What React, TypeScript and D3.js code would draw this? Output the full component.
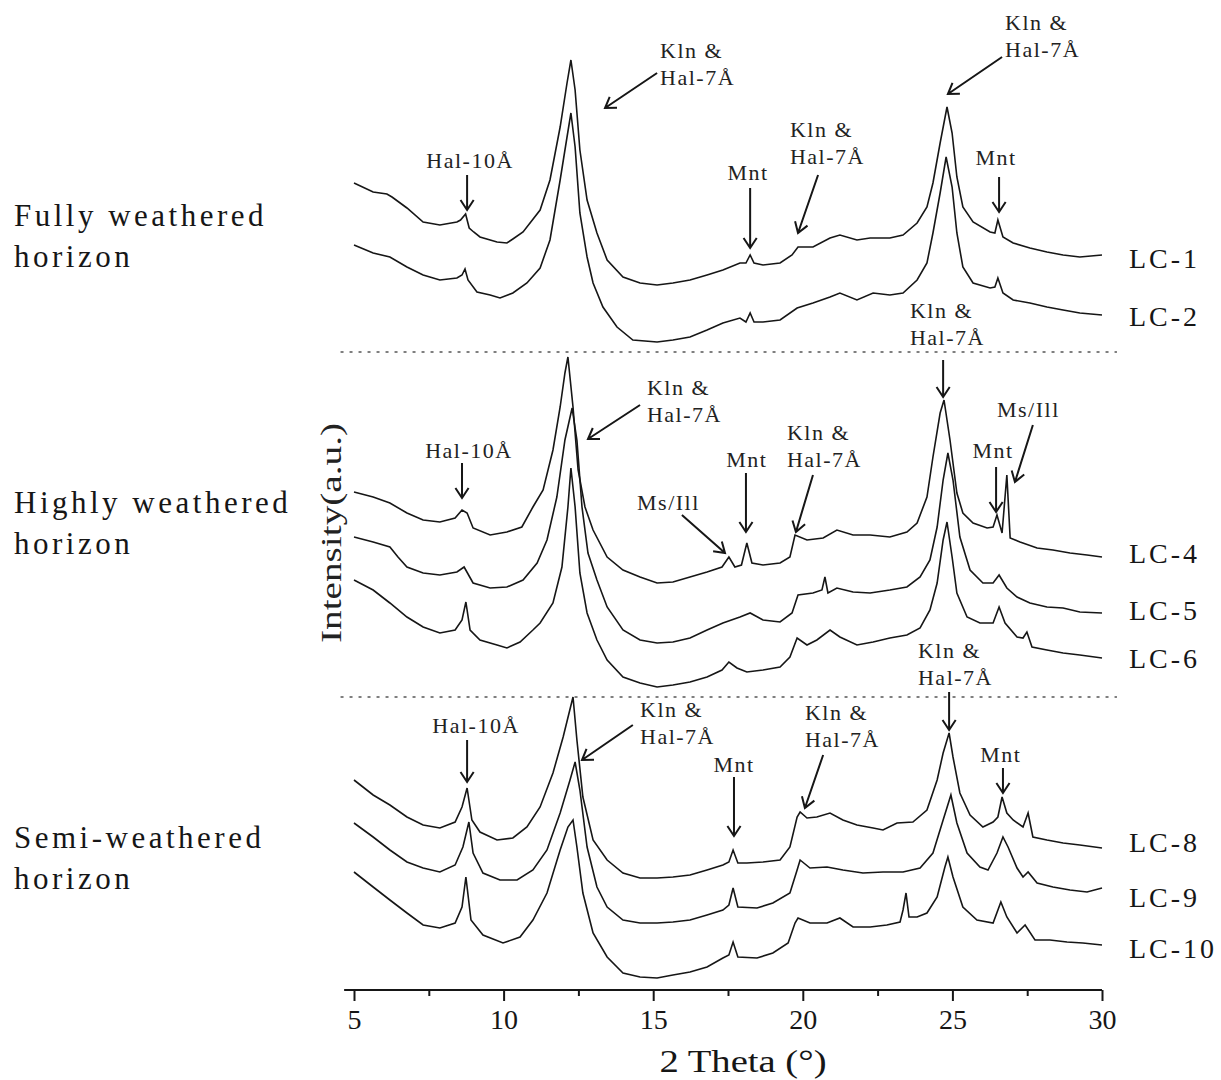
import React, { useEffect, useRef } from "react";
import * as d3 from "d3";

const WIDTH = 1221;
const HEIGHT = 1080;
const FONT = "'Liberation Serif', 'Times New Roman', serif";

// [2theta (deg), intensity (a.u.)]
const LC1 = [
  [5.0, 807], [5.64, 798], [6.1, 796], [6.27, 793], [6.77, 782], [7.31, 768], [7.87, 765],
  [8.44, 768], [8.56, 770], [8.73, 776], [8.85, 762], [9.0, 758], [9.21, 753], [9.78, 748],
  [10.11, 747], [10.31, 751], [10.65, 758], [11.22, 780], [11.55, 810], [11.89, 863],
  [12.12, 907], [12.25, 930], [12.39, 900], [12.55, 840], [12.79, 790], [13.12, 757],
  [13.46, 730], [13.99, 713], [14.56, 707], [15.13, 705], [15.66, 707], [16.23, 710],
  [16.8, 715], [17.33, 720], [17.9, 727], [18.1, 727], [18.24, 735], [18.37, 727],
  [18.67, 725], [19.24, 727], [19.64, 735], [19.84, 743], [20.34, 743], [20.91, 752],
  [21.24, 755], [21.81, 750], [22.25, 752], [22.91, 752], [23.35, 755], [23.82, 767],
  [24.15, 783], [24.35, 807], [24.59, 847], [24.82, 883], [24.99, 857], [25.15, 813],
  [25.35, 783], [25.69, 768], [26.26, 758], [26.42, 757], [26.52, 770], [26.69, 753],
  [27.03, 747], [27.59, 742], [28.16, 738], [28.7, 735], [29.26, 733], [30.0, 735],
];

const LC2 = [
  [5.0, 745], [5.64, 737], [6.2, 733], [6.77, 723], [7.31, 715], [7.87, 710], [8.44, 712],
  [8.61, 715], [8.71, 721], [8.81, 710], [9.11, 698], [9.55, 695], [9.88, 692], [10.31, 697],
  [10.78, 707], [11.22, 722], [11.55, 750], [11.89, 810], [12.12, 853], [12.25, 877],
  [12.39, 843], [12.55, 777], [12.79, 733], [12.99, 707], [13.32, 683], [13.79, 663],
  [14.32, 650], [15.13, 648], [15.66, 650], [16.23, 653], [16.8, 660], [17.33, 667],
  [17.9, 672], [18.1, 668], [18.24, 677], [18.37, 668], [18.67, 668], [19.24, 670],
  [19.81, 682], [20.34, 687], [20.91, 693], [21.24, 697], [21.81, 690], [22.35, 697],
  [22.91, 695], [23.35, 697], [23.82, 710], [24.15, 727], [24.35, 757], [24.59, 797],
  [24.79, 833], [24.99, 803], [25.15, 757], [25.35, 723], [25.69, 707], [26.26, 702],
  [26.42, 703], [26.52, 712], [26.69, 697], [27.03, 690], [27.59, 687], [28.16, 683],
  [28.7, 680], [29.26, 677], [30.0, 675],
];

const LC4 = [
  [5.0, 498], [5.64, 493], [6.2, 487], [6.77, 477], [7.31, 470], [7.87, 468], [8.38, 472],
  [8.61, 480], [8.78, 477], [8.98, 462], [9.55, 455], [10.11, 458], [10.61, 463],
  [10.98, 483], [11.32, 500], [11.65, 540], [11.89, 583], [12.05, 617], [12.15, 633],
  [12.32, 583], [12.49, 520], [12.72, 483], [12.99, 460], [13.46, 433], [13.99, 420],
  [14.56, 413], [15.13, 407], [15.66, 408], [16.23, 413], [16.8, 418], [17.3, 423],
  [17.53, 433], [17.73, 423], [17.95, 425], [18.13, 447], [18.3, 427], [18.67, 425],
  [19.24, 427], [19.57, 433], [19.74, 455], [20.14, 450], [20.68, 452], [21.14, 460],
  [21.68, 455], [22.25, 455], [22.91, 453], [23.48, 458], [23.82, 467], [24.15, 493],
  [24.35, 533], [24.59, 577], [24.72, 590], [24.92, 550], [25.15, 497], [25.35, 477],
  [25.69, 467], [26.16, 462], [26.36, 463], [26.49, 475], [26.66, 457], [26.82, 515],
  [26.93, 452], [27.26, 448], [27.83, 442], [28.36, 440], [28.93, 437], [29.5, 435],
  [30.0, 433],
];

const LC5 = [
  [5.0, 453], [5.64, 448], [6.2, 443], [6.47, 433], [6.77, 423], [7.31, 417], [7.87, 415],
  [8.44, 418], [8.68, 423], [8.98, 407], [9.55, 402], [10.11, 403], [10.65, 410],
  [11.12, 427], [11.45, 450], [11.78, 493], [12.05, 550], [12.29, 582], [12.45, 550],
  [12.62, 483], [12.82, 437], [13.12, 410], [13.46, 383], [13.99, 360], [14.56, 350],
  [15.13, 347], [15.66, 348], [16.23, 352], [16.8, 360], [17.33, 367], [17.9, 373],
  [18.24, 377], [18.67, 370], [19.24, 368], [19.64, 377], [19.84, 395], [20.34, 397],
  [20.64, 400], [20.74, 413], [20.84, 397], [21.14, 402], [21.68, 398], [22.25, 397],
  [22.91, 400], [23.48, 403], [23.92, 413], [24.25, 430], [24.49, 463], [24.69, 510],
  [24.85, 537], [25.02, 510], [25.25, 453], [25.59, 420], [26.02, 407], [26.36, 407],
  [26.56, 415], [26.82, 402], [27.16, 393], [27.59, 387], [28.16, 383], [28.7, 382],
  [29.26, 378], [30.0, 377],
];

const LC6 = [
  [5.0, 410], [5.64, 400], [6.2, 387], [6.77, 373], [7.31, 363], [7.87, 357], [8.38, 360],
  [8.61, 370], [8.74, 388], [8.88, 360], [9.21, 350], [9.78, 345], [10.11, 342],
  [10.55, 348], [10.98, 360], [11.22, 367], [11.65, 387], [11.95, 423], [12.15, 483],
  [12.25, 522], [12.39, 483], [12.55, 417], [12.79, 377], [13.12, 350], [13.46, 330],
  [13.99, 313], [14.56, 307], [15.13, 303], [15.66, 305], [16.23, 308], [16.8, 313],
  [17.3, 320], [17.53, 328], [17.8, 322], [18.13, 318], [18.67, 320], [19.24, 323],
  [19.57, 333], [19.81, 352], [20.14, 345], [20.47, 350], [20.91, 360], [21.24, 353],
  [21.81, 345], [22.35, 348], [22.91, 352], [23.48, 355], [23.92, 362], [24.25, 380],
  [24.49, 407], [24.69, 450], [24.82, 468], [24.99, 433], [25.15, 397], [25.49, 373],
  [25.92, 367], [26.36, 367], [26.56, 383], [26.76, 367], [27.16, 353], [27.36, 352],
  [27.49, 358], [27.66, 343], [28.16, 340], [28.7, 337], [29.26, 335], [30.0, 332],
];

const LC8 = [
  [5.0, 210], [5.64, 195], [6.2, 185], [6.77, 173], [7.31, 165], [7.87, 162], [8.38, 168],
  [8.61, 183], [8.78, 202], [8.94, 170], [9.21, 158], [9.78, 150], [10.31, 152],
  [10.78, 163], [11.22, 183], [11.65, 217], [11.99, 253], [12.32, 293], [12.45, 250],
  [12.65, 193], [12.99, 150], [13.46, 130], [13.99, 117], [14.56, 112], [15.13, 112],
  [15.66, 113], [16.23, 115], [16.8, 120], [17.33, 125], [17.53, 128], [17.67, 140],
  [17.83, 127], [18.13, 127], [18.67, 128], [19.24, 130], [19.57, 143], [19.81, 173],
  [19.91, 178], [20.14, 172], [20.47, 173], [20.91, 177], [21.34, 170], [21.81, 165],
  [22.35, 162], [22.68, 160], [23.15, 167], [23.68, 168], [24.15, 180], [24.49, 210],
  [24.69, 237], [24.89, 257], [25.02, 233], [25.25, 197], [25.59, 175], [26.02, 163],
  [26.36, 168], [26.52, 173], [26.66, 193], [26.82, 177], [27.03, 170], [27.36, 163],
  [27.53, 177], [27.69, 153], [28.16, 150], [28.7, 147], [29.26, 145], [30.0, 142],
];

const LC9 = [
  [5.0, 167], [5.64, 153], [6.2, 140], [6.77, 128], [7.31, 122], [7.87, 118], [8.38, 125],
  [8.64, 143], [8.84, 168], [8.98, 137], [9.31, 117], [9.88, 110], [10.45, 110],
  [10.98, 120], [11.45, 140], [11.89, 177], [12.22, 210], [12.39, 228], [12.55, 200],
  [12.79, 143], [13.12, 103], [13.46, 83], [13.99, 70], [14.56, 67], [15.13, 67],
  [15.66, 68], [16.23, 70], [16.8, 75], [17.33, 80], [17.53, 85], [17.67, 102],
  [17.83, 83], [18.47, 82], [19.0, 87], [19.57, 97], [19.81, 120], [19.91, 130],
  [20.24, 122], [20.81, 123], [21.34, 120], [22.01, 117], [22.68, 118], [23.35, 118],
  [23.92, 122], [24.35, 137], [24.69, 170], [24.95, 195], [25.15, 167], [25.49, 137],
  [25.92, 123], [26.19, 120], [26.49, 137], [26.69, 153], [26.86, 143], [27.16, 122],
  [27.36, 113], [27.53, 118], [27.83, 107], [28.36, 103], [28.93, 100], [29.5, 98],
  [30.0, 102],
];

const LC10 = [
  [5.0, 118], [5.64, 103], [6.2, 90], [6.77, 77], [7.31, 65], [7.87, 62], [8.38, 67],
  [8.61, 83], [8.74, 113], [8.91, 70], [9.31, 55], [9.98, 47], [10.55, 53], [10.98, 70],
  [11.45, 97], [11.89, 140], [12.15, 163], [12.32, 170], [12.45, 143], [12.65, 97],
  [12.99, 57], [13.46, 33], [13.99, 17], [14.56, 13], [15.13, 12], [15.66, 15],
  [16.23, 18], [16.8, 23], [17.33, 32], [17.53, 35], [17.67, 48], [17.83, 33],
  [18.47, 32], [19.0, 37], [19.51, 47], [19.74, 67], [19.84, 72], [20.24, 67],
  [20.81, 67], [21.24, 72], [21.68, 63], [22.25, 63], [22.81, 65], [23.25, 68],
  [23.35, 80], [23.45, 97], [23.55, 73], [23.82, 73], [24.15, 77], [24.49, 93],
  [24.75, 123], [24.85, 133], [25.02, 113], [25.35, 83], [25.82, 70], [26.36, 67],
  [26.62, 88], [26.82, 73], [27.16, 57], [27.43, 65], [27.76, 50], [28.26, 50],
  [28.83, 48], [29.36, 47], [30.0, 45],
];

const SERIES = [LC1, LC2, LC4, LC5, LC6, LC8, LC9, LC10];
const SAMPLES = ["LC-1", "LC-2", "LC-4", "LC-5", "LC-6", "LC-8", "LC-9", "LC-10"];
const SAMPLE_LEVELS = [722, 664, 427, 370, 322, 138, 83, 32];

const HORIZONS = [
  ["Fully weathered", "horizon"],
  ["Highly weathered", "horizon"],
  ["Semi-weathered", "horizon"],
];
const HORIZON_LEVELS = [764, 477, 142];
const DIVIDERS = [638, 293];

const MAJOR_TICKS = [5, 10, 15, 20, 25, 30];
const MINOR_TICKS = [7.5, 12.5, 17.5, 22.5, 27.5];

// label text, anchor point (2theta, a.u.), arrow from -> to
const ANNOTATIONS = [
  { lines: ["Hal-10Å"], at: [8.88, 822], anchor: "middle", arrow: [8.78, 815, 8.78, 780] },
  { lines: ["Kln &", "Hal-7Å"], at: [15.23, 932], anchor: "start", arrow: [15.13, 917, 13.39, 882] },
  { lines: ["Mnt"], at: [18.17, 810], anchor: "middle", arrow: [18.24, 802, 18.24, 742] },
  { lines: ["Kln &", "Hal-7Å"], at: [19.57, 853], anchor: "start", arrow: [20.51, 815, 19.84, 757] },
  { lines: ["Kln &", "Hal-7Å"], at: [26.76, 960], anchor: "start", arrow: [26.66, 933, 24.85, 896] },
  { lines: ["Mnt"], at: [26.46, 825], anchor: "middle", arrow: [26.56, 813, 26.56, 778] },
  { lines: ["Hal-10Å"], at: [8.84, 532], anchor: "middle", arrow: [8.61, 527, 8.61, 492] },
  { lines: ["Kln &", "Hal-7Å"], at: [14.79, 595], anchor: "start", arrow: [14.56, 585, 12.82, 551] },
  { lines: ["Ms/Ill"], at: [14.46, 480], anchor: "start", arrow: [15.96, 475, 17.4, 437] },
  { lines: ["Mnt"], at: [18.13, 523], anchor: "middle", arrow: [18.1, 517, 18.1, 458] },
  { lines: ["Kln &", "Hal-7Å"], at: [19.47, 550], anchor: "start", arrow: [20.34, 515, 19.77, 458] },
  { lines: ["Kln &", "Hal-7Å"], at: [23.58, 672], anchor: "start", arrow: [24.69, 630, 24.69, 593] },
  { lines: ["Ms/Ill"], at: [26.49, 573], anchor: "start", arrow: [27.69, 565, 27.09, 508] },
  { lines: ["Mnt"], at: [26.36, 532], anchor: "middle", arrow: [26.46, 523, 26.46, 478] },
  { lines: ["Hal-10Å"], at: [9.08, 257], anchor: "middle", arrow: [8.78, 250, 8.78, 208] },
  { lines: ["Kln &", "Hal-7Å"], at: [14.56, 273], anchor: "start", arrow: [14.32, 265, 12.62, 230] },
  { lines: ["Mnt"], at: [17.7, 218], anchor: "middle", arrow: [17.7, 213, 17.7, 154] },
  { lines: ["Kln &", "Hal-7Å"], at: [20.07, 270], anchor: "start", arrow: [20.68, 235, 20.07, 182] },
  { lines: ["Kln &", "Hal-7Å"], at: [23.85, 332], anchor: "start", arrow: [24.89, 298, 24.89, 260] },
  { lines: ["Mnt"], at: [26.62, 228], anchor: "middle", arrow: [26.69, 222, 26.69, 197] },
];

export default function App() {
  const svgRef = useRef<SVGSVGElement>(null);

  useEffect(() => {
    const svg = d3.select(svgRef.current);
    svg.selectAll("*").remove();

    const x = d3.scaleLinear().domain([5, 30]).range([354, 1102]);
    const y = d3.scaleLinear().domain([0, 990]).range([990, 0]);
    const ink = "#161616";

    svg.append("rect").attr("width", WIDTH).attr("height", HEIGHT).attr("fill", "#fff");

    // section dividers
    DIVIDERS.forEach((v) => {
      svg
        .append("line")
        .attr("x1", x(4.55))
        .attr("x2", x(30.5))
        .attr("y1", y(v))
        .attr("y2", y(v))
        .attr("stroke", "#555")
        .attr("stroke-width", 1.5)
        .attr("stroke-dasharray", "3,6");
    });

    // patterns
    const lineGen = d3
      .line<number[]>()
      .x((d) => x(d[0]))
      .y((d) => y(d[1]));

    SERIES.forEach((s) => {
      svg
        .append("path")
        .datum(s)
        .attr("fill", "none")
        .attr("stroke", ink)
        .attr("stroke-width", 1.6)
        .attr("stroke-linejoin", "miter")
        .attr("d", lineGen);
    });

    // sample names
    SAMPLES.forEach((name, i) => {
      svg
        .append("text")
        .attr("x", 1129)
        .attr("y", y(SAMPLE_LEVELS[i]))
        .attr("font-family", FONT)
        .attr("font-size", 28)
        .attr("letter-spacing", 3)
        .attr("fill", ink)
        .text(name);
    });

    // horizon labels
    HORIZONS.forEach((lines, i) => {
      lines.forEach((t, j) => {
        svg
          .append("text")
          .attr("x", 14)
          .attr("y", y(HORIZON_LEVELS[i]) + j * 41)
          .attr("font-family", FONT)
          .attr("font-size", 31)
          .attr("letter-spacing", 3.5)
          .attr("fill", ink)
          .text(t);
      });
    });

    // annotations
    const drawArrow = (x1: number, y1: number, x2: number, y2: number) => {
      const ang = Math.atan2(y2 - y1, x2 - x1);
      const len = 12;
      const spread = 0.58;
      const a1 = ang + Math.PI - spread;
      const a2 = ang + Math.PI + spread;
      const p = d3.path();
      p.moveTo(x1, y1);
      p.lineTo(x2, y2);
      p.moveTo(x2 + len * Math.cos(a1), y2 + len * Math.sin(a1));
      p.lineTo(x2, y2);
      p.lineTo(x2 + len * Math.cos(a2), y2 + len * Math.sin(a2));
      svg
        .append("path")
        .attr("d", p.toString())
        .attr("fill", "none")
        .attr("stroke", ink)
        .attr("stroke-width", 2);
    };

    ANNOTATIONS.forEach((a) => {
      a.lines.forEach((t, j) => {
        svg
          .append("text")
          .attr("x", x(a.at[0]))
          .attr("y", y(a.at[1]) + j * 27)
          .attr("text-anchor", a.anchor)
          .attr("font-family", FONT)
          .attr("font-size", 22)
          .attr("letter-spacing", 1.5)
          .attr("fill", "#222")
          .text(t);
      });
      const [t1, v1, t2, v2] = a.arrow;
      drawArrow(x(t1), y(v1), x(t2), y(v2));
    });

    // x axis
    const axisG = svg.append("g").attr("transform", `translate(0,${y(0)})`);
    axisG.append("line").attr("x1", x(4.67)).attr("x2", x(30)).attr("stroke", ink).attr("stroke-width", 2);

    const major = axisG
      .append("g")
      .call(d3.axisBottom(x).tickValues(MAJOR_TICKS).tickSize(11).tickSizeOuter(0).tickPadding(8));
    major.select(".domain").remove();
    major.selectAll("line").attr("stroke", ink).attr("stroke-width", 2);
    major
      .selectAll("text")
      .attr("font-family", FONT)
      .attr("font-size", 28)
      .attr("fill", ink);

    const minor = axisG
      .append("g")
      .call(d3.axisBottom(x).tickValues(MINOR_TICKS).tickSize(6).tickSizeOuter(0).tickFormat(() => ""));
    minor.select(".domain").remove();
    minor.selectAll("line").attr("stroke", ink).attr("stroke-width", 2);

    svg
      .append("text")
      .attr("x", 743)
      .attr("y", 1072)
      .attr("text-anchor", "middle")
      .attr("font-family", FONT)
      .attr("font-size", 31)
      .attr("textLength", 167)
      .attr("lengthAdjust", "spacingAndGlyphs")
      .attr("fill", ink)
      .text("2 Theta (°)");

    svg
      .append("text")
      .attr("transform", `translate(341,533) rotate(-90)`)
      .attr("text-anchor", "middle")
      .attr("font-family", FONT)
      .attr("font-size", 30)
      .attr("textLength", 220)
      .attr("lengthAdjust", "spacingAndGlyphs")
      .attr("fill", "#222")
      .text("Intensity(a.u.)");
  }, []);

  return (
    <svg
      ref={svgRef}
      width={WIDTH}
      height={HEIGHT}
      style={{ position: "absolute", left: 0, top: 0, display: "block" }}
    />
  );
}
